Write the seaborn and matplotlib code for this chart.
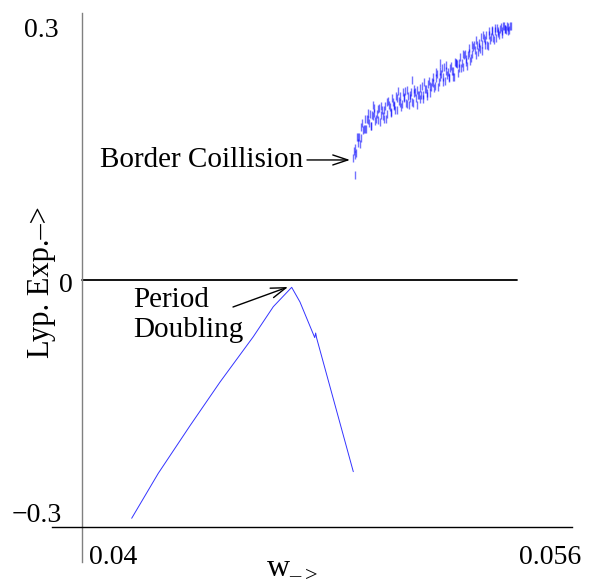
import numpy as np
import pandas as pd
import seaborn as sns
import matplotlib.pyplot as plt
from matplotlib.transforms import ScaledTranslation

# periodic branch (rising to period doubling, then falling)
w_line = [0.041623, 0.042491, 0.043527, 0.044506, 0.045593, 0.046247, 0.046847,
          0.047118, 0.047600, 0.047630, 0.047664, 0.048859]
lyap_line = [-0.2894, -0.2348, -0.1770, -0.1240, -0.0689, -0.0324, -0.0089,
             -0.0267, -0.0700, -0.0644, -0.0708, -0.2328]

# chaotic branch after border collision (two passes of dashes)
w_chaos_a = [0.04885, 0.04890, 0.04895, 0.04900, 0.04905, 0.04910, 0.04915, 0.04920,
             0.04925, 0.04930, 0.04935, 0.04940, 0.04945, 0.04950, 0.04955, 0.04960,
             0.04965, 0.04970, 0.04975, 0.04980, 0.04985, 0.04990, 0.04995, 0.05000,
             0.05005, 0.05010, 0.05015, 0.05020, 0.05025, 0.05030, 0.05035, 0.05040,
             0.05045, 0.05050, 0.05055, 0.05060, 0.05065, 0.05070, 0.05075, 0.05080,
             0.05085, 0.05090, 0.05095, 0.05100, 0.05105, 0.05110, 0.05115, 0.05120,
             0.05125, 0.05130, 0.05135, 0.05140, 0.05145, 0.05150, 0.05155, 0.05160,
             0.05165, 0.05170, 0.05175, 0.05180, 0.05185, 0.05190, 0.05195, 0.05200,
             0.05205, 0.05210, 0.05215, 0.05220, 0.05225, 0.05230, 0.05235, 0.05240,
             0.05245, 0.05250, 0.05255, 0.05260, 0.05265, 0.05270, 0.05275, 0.05280,
             0.05285, 0.05290, 0.05295, 0.05300, 0.05305, 0.05310, 0.05315, 0.05320,
             0.05325, 0.05330, 0.05335, 0.05340, 0.05345, 0.05350, 0.05355, 0.05360,
             0.05365, 0.05370, 0.05375, 0.05380, 0.05385, 0.05390, 0.05395, 0.05400]
lyap_chaos_a = [0.148, 0.160, 0.154, 0.174, 0.174, 0.173, 0.191, 0.184,
                0.183, 0.196, 0.194, 0.202, 0.187, 0.199, 0.203, 0.196,
                0.194, 0.209, 0.201, 0.206, 0.196, 0.211, 0.202, 0.218,
                0.210, 0.204, 0.216, 0.211, 0.223, 0.207, 0.218, 0.224,
                0.214, 0.222, 0.229, 0.214, 0.224, 0.221, 0.228, 0.215,
                0.227, 0.221, 0.231, 0.225, 0.220, 0.236, 0.225, 0.232,
                0.223, 0.238, 0.236, 0.234, 0.246, 0.233, 0.245, 0.250,
                0.241, 0.247, 0.258, 0.246, 0.242, 0.254, 0.253, 0.246,
                0.260, 0.254, 0.247, 0.263, 0.262, 0.257, 0.271, 0.264,
                0.259, 0.274, 0.268, 0.273, 0.282, 0.270, 0.274, 0.286,
                0.273, 0.285, 0.288, 0.280, 0.287, 0.297, 0.286, 0.297,
                0.284, 0.298, 0.295, 0.304, 0.292, 0.302, 0.306, 0.300,
                0.305, 0.299, 0.308, 0.305, 0.304, 0.307, 0.304, 0.308]
w_chaos_b = [0.048875, 0.048925, 0.048975, 0.049025, 0.049075, 0.049125, 0.049175,
             0.049225, 0.049275, 0.049325, 0.049375, 0.049425, 0.049475, 0.049525,
             0.049575, 0.049625, 0.049675, 0.049725, 0.049775, 0.049825, 0.049875,
             0.049925, 0.049975, 0.050025, 0.050075, 0.050125, 0.050175, 0.050225,
             0.050275, 0.050325, 0.050375, 0.050425, 0.050475, 0.050525, 0.050575,
             0.050625, 0.050675, 0.050725, 0.050775, 0.050825, 0.050875, 0.050925,
             0.050975, 0.051025, 0.051075, 0.051125, 0.051175, 0.051225, 0.051275,
             0.051325, 0.051375, 0.051425, 0.051475, 0.051525, 0.051575, 0.051625,
             0.051675, 0.051725, 0.051775, 0.051825, 0.051875, 0.051925, 0.051975,
             0.052025, 0.052075, 0.052125, 0.052175, 0.052225, 0.052275, 0.052325,
             0.052375, 0.052425, 0.052475, 0.052525, 0.052575, 0.052625, 0.052675,
             0.052725, 0.052775, 0.052825, 0.052875, 0.052925, 0.052975, 0.053025,
             0.053075, 0.053125, 0.053175, 0.053225, 0.053275, 0.053325, 0.053375,
             0.053425, 0.053475, 0.053525, 0.053575, 0.053625, 0.053675, 0.053725,
             0.053775, 0.053825, 0.053875, 0.053925, 0.053975]
lyap_chaos_b = [0.157, 0.152, 0.174, 0.166, 0.165, 0.186, 0.182,
                0.196, 0.184, 0.203, 0.191, 0.187, 0.201, 0.209,
                0.193, 0.202, 0.208, 0.192, 0.211, 0.199, 0.206,
                0.195, 0.216, 0.212, 0.203, 0.221, 0.212, 0.206,
                0.221, 0.229, 0.215, 0.210, 0.228, 0.221, 0.215,
                0.231, 0.212, 0.225, 0.216, 0.232, 0.228, 0.213,
                0.225, 0.233, 0.225, 0.220, 0.241, 0.232, 0.227,
                0.242, 0.227, 0.241, 0.239, 0.236, 0.253, 0.235,
                0.254, 0.250, 0.241, 0.259, 0.261, 0.249, 0.245,
                0.258, 0.254, 0.246, 0.265, 0.263, 0.251, 0.264,
                0.258, 0.275, 0.273, 0.265, 0.260, 0.276, 0.266,
                0.285, 0.283, 0.279, 0.292, 0.277, 0.283, 0.295,
                0.278, 0.294, 0.292, 0.285, 0.302, 0.292, 0.302,
                0.294, 0.306, 0.294, 0.303, 0.298, 0.307, 0.302,
                0.309, 0.305, 0.308, 0.303, 0.308]
# stray dashes
w_stray = [0.04891, 0.04950, 0.05078, 0.05169]
lyap_stray = [0.1275, 0.2126, 0.2430, 0.2636]

y_ticks = [0.3, 0.0, -0.3]
y_tick_labels = ['0.3', '0', '\u22120.3']
x_ticks = [0.04, 0.056]
x_tick_labels = ['0.04', '0.056']

sns.set_theme(style='white')
plt.rcParams['font.family'] = ['Liberation Serif', 'DejaVu Serif']
plt.rcParams['mathtext.fontset'] = 'custom'
plt.rcParams['mathtext.rm'] = 'Liberation Serif'

fig = plt.figure(figsize=(5.93, 5.85), dpi=100)
ax = fig.add_axes([40/593, 20/585, 550/593, 555/585])

df_line = pd.DataFrame({'w': w_line, 'lyap': lyap_line})
df_chaos = pd.DataFrame({'w': w_chaos_a + w_chaos_b + w_stray,
                         'lyap': lyap_chaos_a + lyap_chaos_b + lyap_stray})

sns.lineplot(data=df_line, x='w', y='lyap', sort=False, estimator=None,
             color='blue', lw=0.7, alpha=0.8, ax=ax)
sns.scatterplot(data=df_chaos, x='w', y='lyap', marker='|', s=30,
                color='blue', alpha=0.55, linewidth=1.0, ax=ax)

ax.set_xlim(0.038629, 0.056588)
ax.set_ylim(-0.34617, 0.32795)

ax.axhline(0, xmin=42/550, xmax=477/550, color='black', lw=1.3)

for s in ['top', 'right']:
    ax.spines[s].set_visible(False)
ax.spines['left'].set_position(('data', 0.04))
ax.spines['left'].set_bounds(-0.3425, 0.3243)
ax.spines['left'].set_color('#808080')
ax.spines['left'].set_linewidth(1.0)
ax.spines['bottom'].set_position(('data', -0.3))
ax.spines['bottom'].set_bounds(0.03902, 0.056)
ax.spines['bottom'].set_color('black')
ax.spines['bottom'].set_linewidth(1.0)

ax.tick_params(axis='both', length=0, labelsize=20, colors='black')
ax.tick_params(axis='y', pad=7)
ax.tick_params(axis='x', pad=13)
ax.set_yticks(y_ticks)
ax.set_yticklabels(y_tick_labels)
ax.set_xticks(x_ticks)
ax.set_xticklabels(x_tick_labels)

ax.set_ylabel('Lyp. Exp.\u2013>', fontsize=22, color='black')
ax.yaxis.set_label_coords(0.03, 0.51)
ax.set_xlabel('w$_{\\mathregular{\u2013>}}$', fontsize=23, color='black')
ax.xaxis.set_label_coords(0.458, 0.022)

ax.text(0.040588, 0.1372, 'Border Coillision', fontsize=21, ha='left',
        va='baseline', color='black')
ax.annotate('', xy=(0.048751, 0.1458), xytext=(0.047347, 0.1458),
            arrowprops=dict(arrowstyle='->,head_length=0.9,head_width=0.3',
                            color='black', lw=1.0, shrinkA=0, shrinkB=0))
ax.text(0.041665, -0.0085, 'Period\nDoubling', fontsize=21, ha='left',
        va='top', linespacing=1.2, color='black')
ax.annotate('', xy=(0.046727, -0.0085), xytext=(0.044931, -0.0328),
            arrowprops=dict(arrowstyle='->,head_length=0.9,head_width=0.3',
                            color='black', lw=1.0, shrinkA=0, shrinkB=0))

# nudge tick labels to where they sit in the original figure (pixels)
y_off = [(-14, 6), (0, -3), (-10, 14)]
for lab, (dx, dy) in zip(ax.get_yticklabels(), y_off):
    lab.set_transform(lab.get_transform() +
                      ScaledTranslation(dx/100, dy/100, fig.dpi_scale_trans))
x_off = [(31, 0), (-22, 0)]
for lab, (dx, dy) in zip(ax.get_xticklabels(), x_off):
    lab.set_transform(lab.get_transform() +
                      ScaledTranslation(dx/100, dy/100, fig.dpi_scale_trans))

fig.savefig('out.png', dpi=100)
